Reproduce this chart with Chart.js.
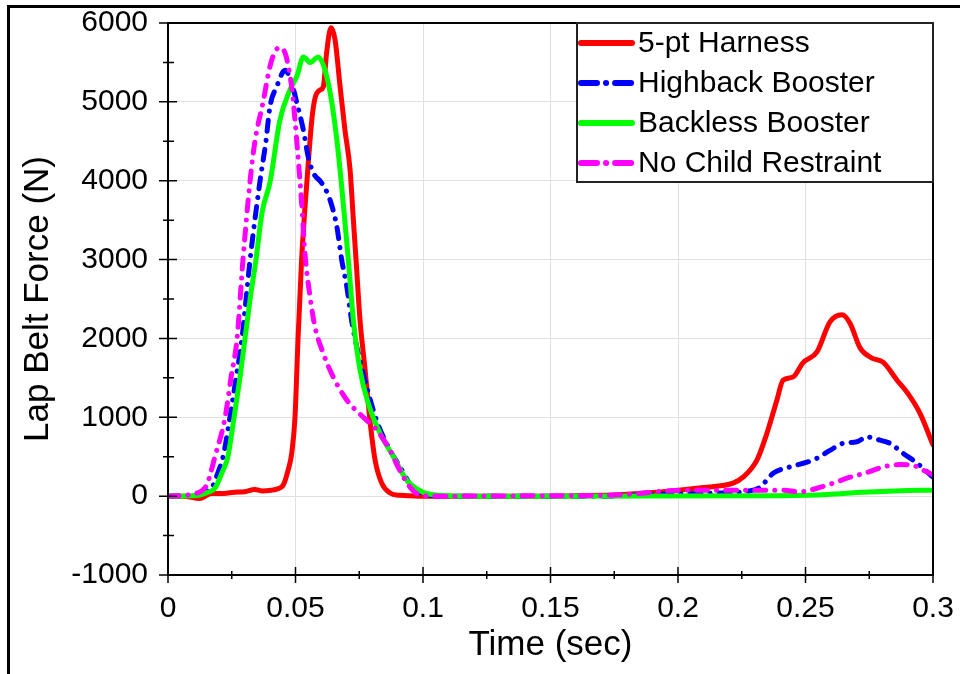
<!DOCTYPE html>
<html>
<head>
<meta charset="utf-8">
<script src="https://cdn.jsdelivr.net/npm/chart.js@4/dist/chart.umd.min.js"></script>
<style>
  html, body { margin: 0; padding: 0; background: #fff; }
  canvas { display: block; }
</style>
</head>
<body>
<canvas id="beltChart" width="960" height="674"></canvas>
<script>
// lap belt load traces, [time (s), force (N)]
const harness = [
  [0, 0], [0.006, 0], [0.0125, -30], [0.017, 35], [0.022, 35], [0.026, 50], [0.03, 55],
  [0.034, 85], [0.037, 65], [0.0405, 75], [0.0426, 90], [0.0452, 140], [0.0471, 330],
  [0.0485, 540], [0.0498, 1000], [0.051, 2000], [0.0524, 3000], [0.0545, 4000],
  [0.0564, 4770], [0.0576, 5040], [0.0596, 5150], [0.0609, 5190], [0.0622, 5620],
  [0.0639, 5940], [0.0655, 5790], [0.0675, 5190], [0.0694, 4640], [0.0714, 4140],
  [0.0727, 3500], [0.074, 2870], [0.0753, 2230], [0.0773, 1600], [0.0792, 960],
  [0.0812, 460], [0.0838, 165], [0.0871, 40], [0.091, 10], [0.0988, 0], [0.15, 0],
  [0.17, 10], [0.18, 25], [0.19, 45], [0.2, 75], [0.21, 110], [0.2216, 165],
  [0.2255, 240], [0.231, 460], [0.2349, 800], [0.2388, 1220], [0.2412, 1470],
  [0.2451, 1510], [0.249, 1690], [0.2545, 1830], [0.2596, 2210], [0.2643, 2300],
  [0.2675, 2190], [0.2714, 1880], [0.2761, 1750], [0.2804, 1700], [0.2859, 1470],
  [0.2902, 1300], [0.2949, 1050], [0.3, 650]
];
const highback = [
  [0, 0], [0.0086, 5], [0.0125, 20], [0.0153, 60], [0.0176, 130], [0.0196, 300],
  [0.0216, 500], [0.0243, 1000], [0.0267, 1500], [0.029, 2000], [0.0322, 3000],
  [0.0361, 4000], [0.0384, 4500], [0.04, 4940], [0.0426, 5190], [0.0459, 5400],
  [0.0485, 5240], [0.0505, 4990], [0.0531, 4640], [0.055, 4300], [0.057, 4100],
  [0.0603, 3970], [0.0635, 3760], [0.0662, 3420], [0.0681, 3000], [0.0701, 2660],
  [0.072, 2230], [0.0746, 1810], [0.0779, 1390], [0.0818, 960], [0.0871, 580],
  [0.091, 370], [0.0961, 100], [0.1027, 15], [0.1106, 0], [0.17, 0], [0.19, 20],
  [0.21, 35], [0.2216, 45], [0.227, 60], [0.2322, 115], [0.2373, 290], [0.2439, 370],
  [0.2506, 430], [0.2545, 480], [0.2596, 580], [0.2647, 670], [0.2702, 690],
  [0.2741, 750], [0.2792, 710], [0.2831, 670], [0.2882, 545], [0.2937, 420], [0.3, 240]
];
const backless = [
  [0, 0], [0.0086, 5], [0.0125, 15], [0.0157, 50], [0.0184, 100], [0.0212, 300],
  [0.0235, 500], [0.0259, 1000], [0.0282, 1500], [0.0302, 2000], [0.0322, 2500],
  [0.0345, 3000], [0.0369, 3600], [0.04, 3980], [0.0439, 4770], [0.0478, 5150],
  [0.0505, 5320], [0.0531, 5570], [0.0557, 5500], [0.0589, 5570], [0.0616, 5400],
  [0.0642, 5000], [0.0668, 4350], [0.0687, 3720], [0.0707, 3000], [0.0727, 2230],
  [0.0753, 1600], [0.0785, 1180], [0.0831, 800], [0.0884, 500], [0.0937, 200],
  [0.1, 50], [0.1067, 10], [0.1145, 0], [0.24, 5], [0.25, 10], [0.26, 25],
  [0.27, 45], [0.28, 60], [0.29, 70], [0.3, 75]
];
const noRestraint = [
  [0, 0], [0.0067, 10], [0.0106, 30], [0.0133, 70], [0.0153, 150], [0.0184, 500],
  [0.0224, 1000], [0.0247, 1500], [0.0271, 2000], [0.0294, 3000], [0.0322, 4000],
  [0.0341, 4500], [0.0373, 5000], [0.04, 5450], [0.042, 5640], [0.0439, 5690],
  [0.0459, 5620], [0.0472, 5450], [0.0485, 5190], [0.0498, 4770], [0.0511, 4260],
  [0.0524, 3720], [0.0537, 3080], [0.0557, 2530], [0.0576, 2150], [0.0609, 1810],
  [0.0648, 1510], [0.0701, 1220], [0.0766, 1000], [0.0818, 840], [0.0871, 580],
  [0.0902, 370], [0.0949, 115], [0.0988, 15], [0.1067, 0], [0.15, 5], [0.172, 10],
  [0.185, 35], [0.198, 70], [0.2153, 75], [0.2282, 75], [0.2412, 75], [0.2478, 55],
  [0.2545, 100], [0.2608, 165], [0.2675, 240], [0.2741, 300], [0.2804, 370],
  [0.2871, 400], [0.2922, 390], [0.2961, 330], [0.3, 270]
];

const seriesNames = ['5-pt Harness', 'Highback Booster', 'Backless Booster', 'No Child Restraint'];
const seriesColors = ['#ff0000', '#0000ff', '#00ff00', '#ff00ff'];
const xTicks = { min: 0, max: 0.3, step: 0.05 };
const yTicks = { min: -1000, max: 6000, step: 1000 };

const FONT = "'Liberation Sans', Arial, sans-serif";
const dashDot = [11, 9, 0.1, 9];

const toPoints = rows => rows.map(([t, f]) => ({ x: t, y: f }));

const traces = [harness, highback, backless, noRestraint];
const dashes = [[], dashDot, [], dashDot];
// magenta on top, red underneath
const drawOrder = [3, 2, 1, 0];

const datasets = traces.map((rows, i) => ({
  label: seriesNames[i],
  data: toPoints(rows),
  borderColor: seriesColors[i],
  backgroundColor: seriesColors[i],
  borderWidth: 5,
  borderDash: dashes[i],
  borderCapStyle: 'round',
  borderJoinStyle: 'round',
  cubicInterpolationMode: 'monotone',
  pointRadius: 0,
  fill: false,
  order: drawOrder[i]
}));

// crossing tick marks, plot frame and the outer figure border
const axisFrame = {
  id: 'axisFrame',
  afterDatasetsDraw(chart) {
    const { ctx, chartArea: a, scales: { x, y } } = chart;
    ctx.save();
    ctx.strokeStyle = '#000';
    ctx.lineWidth = 1.5;
    ctx.beginPath();
    const xv = x.ticks.map(t => t.value);
    xv.forEach((v, i) => {
      const px = x.getPixelForValue(v);
      ctx.moveTo(px, a.bottom - 8);
      ctx.lineTo(px, a.bottom + 8);
      if (i < xv.length - 1) {
        const mx = x.getPixelForValue((v + xv[i + 1]) / 2);
        ctx.moveTo(mx, a.bottom - 4);
        ctx.lineTo(mx, a.bottom + 4);
      }
    });
    const yv = y.ticks.map(t => t.value);
    yv.forEach((v, i) => {
      const py = y.getPixelForValue(v);
      ctx.moveTo(a.left - 9, py);
      ctx.lineTo(a.left + 9, py);
      if (i < yv.length - 1) {
        const my = y.getPixelForValue((v + yv[i + 1]) / 2);
        ctx.moveTo(a.left - 5, my);
        ctx.lineTo(a.left + 6, my);
      }
    });
    ctx.stroke();
    ctx.lineWidth = 2;
    ctx.strokeRect(a.left, a.top, a.width, a.height);
    ctx.lineWidth = 3;
    ctx.strokeRect(8.5, 6.5, chart.width + 20, chart.height + 20);
    ctx.restore();
  }
};

// boxed legend in the top right corner of the plot
const boxedLegend = {
  id: 'boxedLegend',
  afterDraw(chart) {
    const { ctx, chartArea: a } = chart;
    const w = 356, h = 159, rowH = 40;
    const left = a.right - w, top = a.top;
    ctx.save();
    ctx.fillStyle = '#fff';
    ctx.fillRect(left, top, w, h);
    ctx.strokeStyle = '#222';
    ctx.lineWidth = 2;
    ctx.strokeRect(left, top, w, h);
    ctx.font = '30px ' + FONT;
    ctx.textBaseline = 'middle';
    ctx.textAlign = 'left';
    chart.data.datasets.forEach((ds, i) => {
      const cy = top + 20 + i * rowH;
      ctx.beginPath();
      ctx.strokeStyle = ds.borderColor;
      ctx.lineWidth = 6;
      ctx.lineCap = 'round';
      ctx.setLineDash(ds.borderDash.length ? [16, 9, 0.1, 9] : []);
      ctx.moveTo(left + 4, cy);
      ctx.lineTo(left + 55, cy);
      ctx.stroke();
      ctx.setLineDash([]);
      ctx.fillStyle = '#000';
      ctx.fillText(ds.label, left + 61, cy + 1);
    });
    ctx.restore();
  }
};

const tickFont = { family: FONT, size: 30 };
const titleFont = { family: FONT, size: 35 };
const gridStyle = { color: '#e0e0e0', lineWidth: 1, drawTicks: false };

new Chart(document.getElementById('beltChart'), {
  type: 'line',
  data: { datasets },
  options: {
    responsive: false,
    animation: false,
    layout: { padding: { top: 23, right: 27, bottom: 0, left: 0 } },
    plugins: {
      legend: { display: false },
      tooltip: { enabled: false }
    },
    scales: {
      x: {
        type: 'linear',
        min: xTicks.min,
        max: xTicks.max,
        afterFit(scale) {
          scale.height = 99;
          scale.paddingLeft = 0;
          scale.paddingRight = 0;
        },
        grid: gridStyle,
        border: { display: false },
        ticks: {
          stepSize: xTicks.step,
          padding: 16,
          color: '#000',
          font: tickFont,
          maxRotation: 0,
          autoSkip: false,
          callback: v => String(+v.toFixed(2))
        },
        title: {
          display: true,
          text: 'Time (sec)',
          color: '#000',
          font: titleFont,
          padding: { top: 0, bottom: 8 }
        }
      },
      y: {
        min: yTicks.min,
        max: yTicks.max,
        afterFit(scale) {
          scale.width = 168;
          scale.paddingTop = 0;
          scale.paddingBottom = 0;
        },
        grid: gridStyle,
        border: { display: false },
        ticks: {
          stepSize: yTicks.step,
          padding: 20,
          color: '#000',
          font: tickFont,
          autoSkip: false,
          callback: v => String(v)
        },
        title: {
          display: true,
          text: 'Lap Belt Force (N)',
          color: '#000',
          font: titleFont,
          padding: { top: 17, bottom: 0 }
        }
      }
    }
  },
  plugins: [axisFrame, boxedLegend]
});
</script>
</body>
</html>
